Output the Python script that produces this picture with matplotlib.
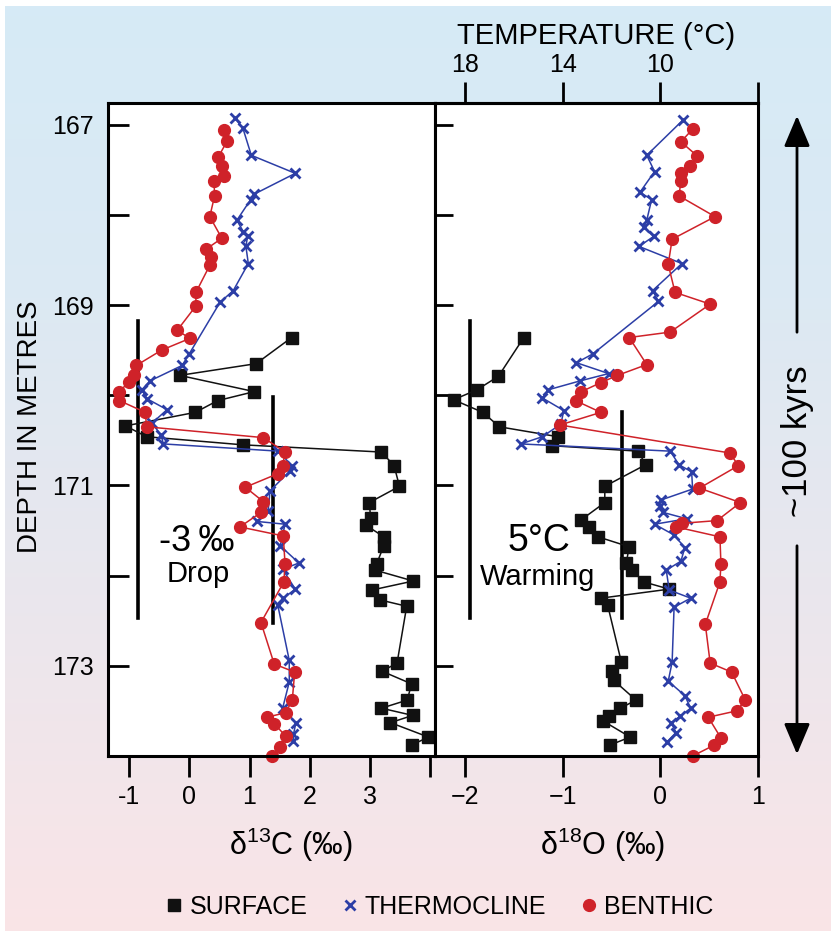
import numpy as np
import matplotlib
matplotlib.use("Agg")
import matplotlib.pyplot as plt
from matplotlib.lines import Line2D
from matplotlib.patches import FancyArrowPatch
from matplotlib.ticker import FixedLocator, FixedFormatter

plt.rcParams['font.family'] = ['Liberation Sans', 'DejaVu Sans']
plt.rcParams['mathtext.fontset'] = 'custom'
plt.rcParams['mathtext.rm'] = 'Liberation Sans'

# --- data ---
# delta 13C panel
surf13_depth = [169.36, 169.65, 169.78, 169.96, 170.06, 170.19, 170.34, 170.46, 170.55, 170.63,
                170.78, 171.01, 171.19, 171.36, 171.44, 171.57, 171.67, 171.87, 171.94, 172.06,
                172.16, 172.27, 172.34, 172.97, 173.06, 173.20, 173.38, 173.47, 173.55, 173.63,
                173.79, 173.88]
surf13 = [1.70, 1.11, -0.16, 1.08, 0.47, 0.10, -1.06, -0.71, 0.89, 3.19,
          3.40, 3.49, 2.99, 3.01, 2.93, 3.23, 3.23, 3.11, 3.09, 3.72,
          3.03, 3.17, 3.61, 3.45, 3.20, 3.69, 3.62, 3.19, 3.71, 3.34,
          3.97, 3.69]

thermo13_depth = [166.93, 167.04, 167.34, 167.54, 167.77, 167.83, 168.06, 168.19, 168.23, 168.35,
                  168.54, 168.84, 168.97, 169.54, 169.67, 169.84, 169.94, 170.04, 170.16, 170.31,
                  170.44, 170.54, 170.62, 170.78, 170.84, 171.06, 171.28, 171.40, 171.43, 171.67,
                  171.86, 171.93, 172.15, 172.25, 172.33, 172.94, 173.18, 173.47, 173.63, 173.76,
                  173.83]
thermo13 = [0.76, 0.89, 1.03, 1.76, 1.08, 1.02, 0.79, 0.90, 0.97, 0.94,
            0.98, 0.73, 0.51, 0.00, -0.12, -0.65, -0.79, -0.70, -0.37, -0.62,
            -0.47, -0.43, 1.48, 1.70, 1.67, 1.34, 1.31, 1.13, 1.59, 1.51,
            1.82, 1.55, 1.76, 1.56, 1.47, 1.66, 1.66, 1.55, 1.77, 1.73,
            1.73]

benth13_depth = [167.06, 167.18, 167.36, 167.46, 167.57, 167.62, 167.79, 168.02, 168.26, 168.38,
                 168.47, 168.56, 168.86, 169.01, 169.28, 169.37, 169.50, 169.67, 169.78, 169.85,
                 169.96, 170.06, 170.19, 170.35, 170.47, 170.63, 170.79, 170.87, 171.02, 171.18,
                 171.30, 171.46, 171.56, 171.87, 172.07, 172.52, 172.98, 173.07, 173.38, 173.52,
                 173.57, 173.64, 173.78, 173.90, 174.00]
benth13 = [0.58, 0.63, 0.48, 0.54, 0.57, 0.41, 0.42, 0.34, 0.54, 0.28,
           0.36, 0.34, 0.11, 0.11, -0.20, 0.01, -0.46, -0.88, -0.91, -1.00,
           -1.16, -1.16, -0.73, -0.71, 1.23, 1.59, 1.55, 1.47, 0.93, 1.23,
           1.19, 0.84, 1.56, 1.59, 1.57, 1.19, 1.41, 1.75, 1.71, 1.60,
           1.29, 1.41, 1.60, 1.51, 1.38]

# delta 18O panel
surf18_depth = [169.36, 169.79, 169.94, 170.05, 170.19, 170.35, 170.46, 170.56, 170.62, 170.77,
                171.01, 171.19, 171.38, 171.46, 171.57, 171.68, 171.86, 171.94, 172.07, 172.15,
                172.25, 172.33, 172.96, 173.06, 173.16, 173.38, 173.47, 173.56, 173.61, 173.79,
                173.88]
surf18 = [-1.40, -1.66, -1.88, -2.12, -1.82, -1.65, -1.05, -1.11, -0.23, -0.15,
          -0.57, -0.57, -0.81, -0.73, -0.64, -0.32, -0.35, -0.29, -0.17, 0.09,
          -0.61, -0.54, -0.40, -0.50, -0.48, -0.25, -0.41, -0.53, -0.59, -0.31,
          -0.52]

thermo18_depth = [166.95, 167.34, 167.52, 167.75, 167.83, 168.06, 168.14, 168.24, 168.35, 168.54,
                  168.84, 168.96, 169.54, 169.64, 169.76, 169.84, 169.94, 170.03, 170.17, 170.32,
                  170.46, 170.54, 170.62, 170.77, 170.85, 171.04, 171.16, 171.23, 171.30, 171.37,
                  171.43, 171.55, 171.69, 171.84, 171.94, 172.16, 172.25, 172.35, 172.96, 173.17,
                  173.33, 173.47, 173.56, 173.63, 173.74, 173.84]
thermo18 = [0.23, -0.14, -0.06, -0.21, -0.09, -0.14, -0.17, -0.07, -0.22, 0.22,
            -0.08, -0.02, -0.69, -0.86, -0.53, -0.82, -1.15, -1.21, -0.99, -1.02,
            -1.21, -1.43, 0.10, 0.19, 0.32, 0.33, 0.01, 0.00, 0.03, 0.27,
            -0.06, 0.14, 0.25, 0.21, 0.06, 0.09, 0.31, 0.14, 0.12, 0.08,
            0.25, 0.31, 0.20, 0.11, 0.16, 0.07]

benth18_depth = [167.05, 167.19, 167.35, 167.46, 167.54, 167.63, 167.79, 168.02, 168.27, 168.55,
                 168.86, 168.99, 169.30, 169.36, 169.66, 169.78, 169.86, 169.96, 170.06, 170.19,
                 170.33, 170.64, 170.78, 171.03, 171.19, 171.39, 171.42, 171.46, 171.57, 171.87,
                 172.07, 172.54, 172.97, 173.07, 173.38, 173.50, 173.57, 173.80, 173.88, 174.00]
benth18 = [0.33, 0.21, 0.38, 0.30, 0.21, 0.21, 0.19, 0.56, 0.12, 0.08,
           0.15, 0.51, 0.10, -0.32, -0.14, -0.44, -0.61, -0.81, -0.87, -0.61,
           -1.03, 0.71, 0.80, 0.40, 0.82, 0.58, 0.22, 0.16, 0.61, 0.62,
           0.61, 0.46, 0.51, 0.73, 0.87, 0.78, 0.49, 0.62, 0.55, 0.33]

# bars marking the shift: (x, depth top, depth bottom)
bars13 = [(-0.85, 169.18, 172.47), (1.39, 170.02, 172.52)]
bars18 = [(-1.95, 169.18, 172.47), (-0.39, 170.19, 172.47)]

depth_ticks = [167, 168, 169, 170, 171, 172, 173]
depth_labels = ['167', '', '169', '', '171', '', '173']
c13_ticks = [-1, 0, 1, 2, 3, 4]
c13_labels = ['-1', '0', '1', '2', '3', '']
o18_ticks = [-2, -1, 0, 1]
temp_ticks = [18, 14, 10, 6]
temp_labels = ['18', '14', '10', '']

BLACK = '#111111'
BLUE = '#2c3ea6'
RED = '#cf2229'

series_style = {
    'surface': dict(color=BLACK, marker='s', ms=8.5, lw=1.1),
    'thermo': dict(color=BLUE, marker='x', ms=6.5, mew=2.0, lw=1.1),
    'benth': dict(color=RED, marker='o', ms=8.5, lw=1.1),
}

fig = plt.figure(figsize=(8.36, 9.35), dpi=100)

# gradient background
bg = fig.add_axes([0.006, 0.004, 0.988, 0.99], zorder=-10)
top = np.array([0.84, 0.92, 0.965])
mid = np.array([0.86, 0.915, 0.955])
bot = np.array([0.98, 0.895, 0.905])
t = np.linspace(0, 1, 256)[:, None]
grad = np.where(t < 0.3, top + (mid - top) * (t / 0.3),
                mid + (bot - mid) * ((t - 0.3) / 0.7))
bg.imshow(grad[:, None, :], aspect='auto', extent=[0, 1, 0, 1])
bg.axis('off')

ax1 = fig.add_axes([108 / 836, 1 - 756 / 935, 327 / 836, 653 / 935])
ax2 = fig.add_axes([435 / 836, 1 - 756 / 935, 323 / 836, 653 / 935])

for ax in (ax1, ax2):
    ax.set_facecolor('white')
    ax.set_ylim(174.0, 166.76)
    for sp in ax.spines.values():
        sp.set_linewidth(2.2)
    ax.yaxis.set_major_locator(FixedLocator(depth_ticks))
    ax.tick_params(axis='x', direction='out', length=15, width=2, labelsize=18, pad=6)

ax1.tick_params(axis='y', direction='in', length=15, width=2, labelsize=18, pad=10)
ax1.yaxis.set_major_formatter(FixedFormatter(depth_labels))
ax2.tick_params(axis='y', direction='in', length=13, width=2, labelleft=False)

ax1.set_xlim(-1.35, 4.08)
ax1.xaxis.set_major_locator(FixedLocator(c13_ticks))
ax1.xaxis.set_major_formatter(FixedFormatter(c13_labels))
ax2.set_xlim(-2.31, 1.0)
ax2.xaxis.set_major_locator(FixedLocator(o18_ticks))

ax1.plot(surf13, surf13_depth, **series_style['surface'])
ax1.plot(thermo13, thermo13_depth, **series_style['thermo'])
ax1.plot(benth13, benth13_depth, clip_on=False, **series_style['benth'])
ax2.plot(surf18, surf18_depth, **series_style['surface'])
ax2.plot(thermo18, thermo18_depth, **series_style['thermo'])
ax2.plot(benth18, benth18_depth, clip_on=False, **series_style['benth'])

for x, d0, d1 in bars13:
    ax1.plot([x, x], [d0, d1], color='black', lw=2.6, zorder=1)
for x, d0, d1 in bars18:
    ax2.plot([x, x], [d0, d1], color='black', lw=2.6, zorder=1)

ax1.text(0.13, 171.62, '-3\u2009\u2030', fontsize=26, ha='center', va='center')
ax1.text(0.15, 171.98, 'Drop', fontsize=21, ha='center', va='center')
ax2.text(-1.24, 171.62, '5\u00b0C', fontsize=27, ha='center', va='center')
ax2.text(-1.26, 172.02, 'Warming', fontsize=21, ha='center', va='center')

ax1.set_ylabel('DEPTH IN METRES', fontsize=20)
ax1.yaxis.set_label_coords(-0.20, 0.505)
ax1.set_xlabel('\u03b4$^{13}$C (\u2030)', fontsize=22)
ax1.xaxis.set_label_coords(0.56, -0.107)
ax2.set_xlabel('\u03b4$^{18}$O (\u2030)', fontsize=22)
ax2.xaxis.set_label_coords(0.52, -0.107)

# temperature scale on top of the oxygen panel
sec = ax2.secondary_xaxis('top', functions=(lambda d: 10 - 4 * d, lambda T: (10 - T) / 4))
sec.xaxis.set_major_locator(FixedLocator(temp_ticks))
sec.xaxis.set_major_formatter(FixedFormatter(temp_labels))
sec.tick_params(direction='out', length=15, width=2, labelsize=18, pad=4)
sec.spines['top'].set_linewidth(2.2)
sec.set_xlabel('TEMPERATURE (\u00b0C)', fontsize=21, labelpad=6)

# ~100 kyrs arrow
ax_x = 797 / 836
for y0, y1 in [(1 - 335 / 935, 1 - 113 / 935), (1 - 543 / 935, 1 - 757 / 935)]:
    fig.add_artist(FancyArrowPatch((ax_x, y0), (ax_x, y1), transform=fig.transFigure,
                                   arrowstyle='-|>,head_length=0.9,head_width=0.38',
                                   mutation_scale=21, color='black', lw=2))
fig.text(ax_x, 1 - 441 / 935, '~100 kyrs', rotation=90, fontsize=25,
         ha='center', va='center')

handles = [
    Line2D([], [], ls='none', **{k: v for k, v in series_style['surface'].items() if k != 'lw'}),
    Line2D([], [], ls='none', **{k: v for k, v in series_style['thermo'].items() if k != 'lw'}),
    Line2D([], [], ls='none', **{k: v for k, v in series_style['benth'].items() if k != 'lw'}),
]
fig.legend(handles, ['SURFACE', 'THERMOCLINE', 'BENTHIC'], loc='center',
           bbox_to_anchor=(440 / 836, 1 - 907 / 935), ncol=3, frameon=False,
           fontsize=18, handlelength=0.6, handletextpad=0.3, columnspacing=1.4)

fig.savefig('out.png', dpi=100)
